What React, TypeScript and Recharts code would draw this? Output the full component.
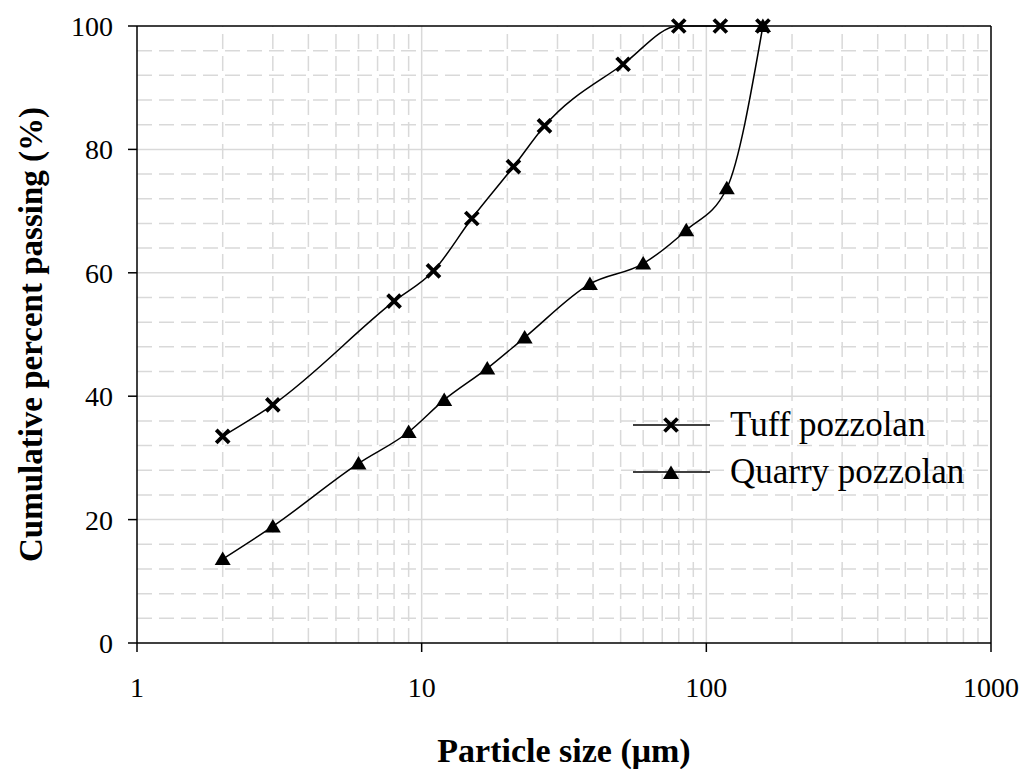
import React from "react";
import {
  ScatterChart, Scatter, XAxis, YAxis, Legend, ReferenceLine,
} from "recharts";

// particle size (µm) vs cumulative percent passing (%)
const tuffSize = [2, 3, 8, 11, 15, 21, 27, 51, 80, 112, 158];
const tuffPassing = [33.5, 38.6, 55.4, 60.3, 68.8, 77.2, 83.8, 93.8, 100, 100, 100];
const quarrySize = [2, 3, 6, 9, 12, 17, 23, 39, 60, 85, 118, 158];
const quarryPassing = [13.6, 18.9, 29.1, 34.2, 39.4, 44.5, 49.5, 58.2, 61.5, 66.9, 73.7, 100];
const seriesNames = ["Tuff pozzolan", "Quarry pozzolan"];

const xTicks = [1, 10, 100, 1000];
const yTicks = [0, 20, 40, 60, 80, 100];
const xMajorGrid = [10, 100];
const xMinorGrid = [2, 3, 4, 5, 6, 7, 8, 9, 20, 30, 40, 50, 60, 70, 80, 90, 200, 300, 400, 500, 600, 700, 800, 900];
const yMajorGrid = [20, 40, 60, 80];
const yMinorGrid = [4, 8, 12, 16, 24, 28, 32, 36, 44, 48, 52, 56, 64, 68, 72, 76, 84, 88, 92, 96];

const tuffData = tuffSize.map((x, i) => ({ x, y: tuffPassing[i] }));
const quarryData = quarrySize.map((x, i) => ({ x, y: quarryPassing[i] }));

const FONT = '"Liberation Serif", "Times New Roman", serif';
const GRID = "#d9d9d9";

function Cross({ cx, cy }: any) {
  const r = 6.5;
  return (
    <path
      d={`M${cx - r},${cy - r}L${cx + r},${cy + r}M${cx - r},${cy + r}L${cx + r},${cy - r}`}
      stroke="#000" strokeWidth={3.8} fill="none"
    />
  );
}

function Tri({ cx, cy }: any) {
  return <path d={`M${cx},${cy - 7.5}L${cx + 8},${cy + 6}L${cx - 8},${cy + 6}Z`} fill="#000" />;
}

function LegendBox({ payload }: any) {
  const items = [...(payload || [])].sort(
    (a: any, b: any) => seriesNames.indexOf(a.value) - seriesNames.indexOf(b.value)
  );
  return (
    <div style={{ fontFamily: FONT, fontSize: 35, color: "#000" }}>
      {items.map((p: any) => (
        <div key={p.value} style={{ display: "flex", alignItems: "center", height: 47 }}>
          <svg width={77} height={20} style={{ marginRight: 20 }}>
            <line x1={0} x2={77} y1={10} y2={10} stroke="#000" strokeWidth={1.5} />
            {p.value === seriesNames[0] ? <Cross cx={38} cy={10} /> : <Tri cx={38} cy={11} />}
          </svg>
          <span style={{ lineHeight: "47px" }}>{p.value}</span>
        </div>
      ))}
    </div>
  );
}

export default function App() {
  return (
    <div style={{ position: "absolute", left: 0, top: 0, background: "#fff" }}>
      <ScatterChart width={1022} height={769} margin={{ top: 26, right: 31, bottom: 0, left: 0 }}>
        {yMinorGrid.map((v) => (
          <ReferenceLine key={`ym${v}`} y={v} stroke={GRID} strokeWidth={1.5} strokeDasharray="15 7" />
        ))}
        {xMinorGrid.map((v) => (
          <ReferenceLine key={`xm${v}`} x={v} stroke={GRID} strokeWidth={1.5} strokeDasharray="15 7" />
        ))}
        {yMajorGrid.map((v) => (
          <ReferenceLine key={`yM${v}`} y={v} stroke={GRID} strokeWidth={1.5} />
        ))}
        {xMajorGrid.map((v) => (
          <ReferenceLine key={`xM${v}`} x={v} stroke={GRID} strokeWidth={1.5} />
        ))}
        <ReferenceLine y={100} stroke="#000" strokeWidth={1.5} />
        <ReferenceLine x={1000} stroke="#000" strokeWidth={1.5} />
        <XAxis
          type="number" dataKey="x" scale="log" domain={[1, 1000]} ticks={xTicks}
          allowDataOverflow height={126}
          axisLine={{ stroke: "#000", strokeWidth: 1.5 }}
          tickLine={{ stroke: "#000", strokeWidth: 1.5 }} tickSize={9} tickMargin={25}
          tick={{ fill: "#000", fontSize: 28, fontFamily: FONT }}
          label={{
            value: "Particle size (μm)", position: "insideBottom", offset: 7,
            style: { fill: "#000", fontSize: 34, fontWeight: "bold", fontFamily: FONT },
          }}
        />
        <YAxis
          type="number" dataKey="y" domain={[0, 100]} ticks={yTicks} width={137}
          axisLine={{ stroke: "#000", strokeWidth: 1.5 }}
          tickLine={{ stroke: "#000", strokeWidth: 1.5 }} tickSize={9} tickMargin={15}
          tick={{ fill: "#000", fontSize: 28, fontFamily: FONT }}
          label={{
            value: "Cumulative percent passing (%)", angle: -90, position: "insideLeft", offset: 30,
            style: { fill: "#000", fontSize: 33, fontWeight: "bold", fontFamily: FONT, textAnchor: "middle" },
          }}
        />
        <Legend
          layout="vertical" verticalAlign="middle" align="center"
          wrapperStyle={{ left: 633, top: 401, width: "auto" }}
          content={<LegendBox />}
        />
        <Scatter
          name={seriesNames[0]} data={tuffData} fill="#000"
          line={{ stroke: "#000", strokeWidth: 1.5 }} lineJointType="monotoneX"
          shape={<Cross />} isAnimationActive={false}
        />
        <Scatter
          name={seriesNames[1]} data={quarryData} fill="#000"
          line={{ stroke: "#000", strokeWidth: 1.5 }} lineJointType="monotoneX"
          shape={<Tri />} isAnimationActive={false}
        />
      </ScatterChart>
    </div>
  );
}
